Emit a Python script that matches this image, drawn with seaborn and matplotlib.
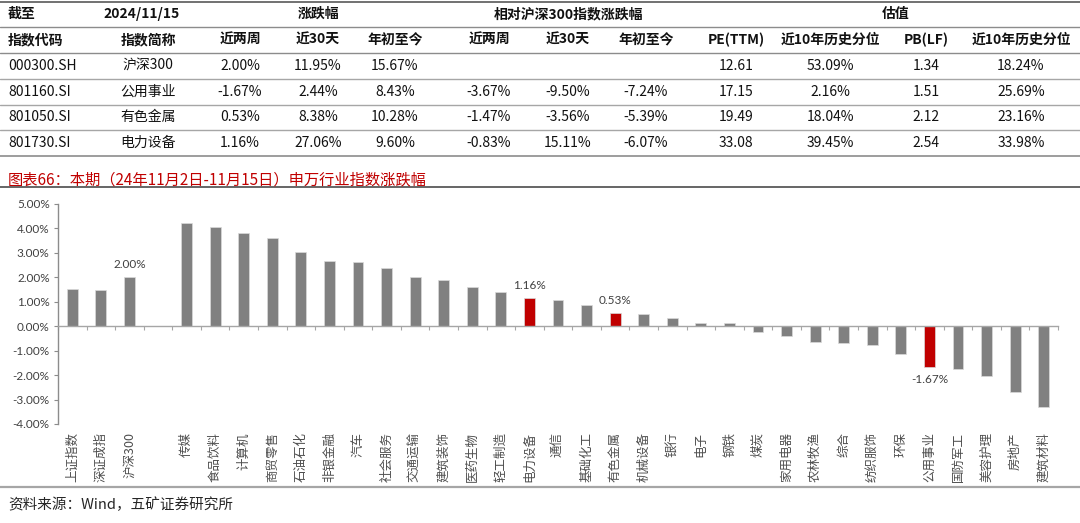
import numpy as np
import pandas as pd
import matplotlib
matplotlib.use("Agg")
import matplotlib.pyplot as plt
from matplotlib.lines import Line2D
from matplotlib.ticker import StrMethodFormatter
import seaborn as sns

# ---------------- data ----------------
header_top = ["截至", "2024/11/15", "涨跌幅", "相对沪深300指数涨跌幅", "估值"]
header_cols = ["指数代码", "指数简称", "近两周", "近30天", "年初至今", "近两周", "近30天",
               "年初至今", "PE(TTM)", "近10年历史分位", "PB(LF)", "近10年历史分位"]
table_rows = [
    ["000300.SH", "沪深300", "2.00%", "11.95%", "15.67%", "", "", "", "12.61", "53.09%", "1.34", "18.24%"],
    ["801160.SI", "公用事业", "-1.67%", "2.44%", "8.43%", "-3.67%", "-9.50%", "-7.24%", "17.15", "2.16%", "1.51", "25.69%"],
    ["801050.SI", "有色金属", "0.53%", "8.38%", "10.28%", "-1.47%", "-3.56%", "-5.39%", "19.49", "18.04%", "2.12", "23.16%"],
    ["801730.SI", "电力设备", "1.16%", "27.06%", "9.60%", "-0.83%", "15.11%", "-6.07%", "33.08", "39.45%", "2.54", "33.98%"],
]

categories = ["上证指数", "深证成指", "沪深300", "", "传媒", "食品饮料", "计算机", "商贸零售",
              "石油石化", "非银金融", "汽车", "社会服务", "交通运输", "建筑装饰", "医药生物",
              "轻工制造", "电力设备", "通信", "基础化工", "有色金属", "机械设备", "银行", "电子",
              "钢铁", "煤炭", "家用电器", "农林牧渔", "综合", "纺织服饰", "环保", "公用事业",
              "国防军工", "美容护理", "房地产", "建筑材料"]
values = [1.54, 1.49, 2.00, np.nan, 4.22, 4.04, 3.81, 3.62,
          3.04, 2.68, 2.63, 2.38, 2.00, 1.89, 1.62,
          1.40, 1.16, 1.08, 0.86, 0.53, 0.51, 0.34, 0.15,
          0.14, -0.24, -0.39, -0.64, -0.68, -0.75, -1.13, -1.67,
          -1.74, -2.05, -2.68, -3.31]
highlight = ["电力设备", "有色金属", "公用事业"]
labeled = ["沪深300", "电力设备", "有色金属", "公用事业"]

title = "图表66：本期（24年11月2日-11月15日）申万行业指数涨跌幅"
source = "资料来源：Wind，五矿证券研究所"

# ---------------- style ----------------
sns.set_theme(style="white")
plt.rcParams["font.family"] = ["Noto Sans CJK SC", "DejaVu Sans"]
plt.rcParams["axes.unicode_minus"] = False

W, H = 1080, 523
fig = plt.figure(figsize=(W / 100, H / 100), dpi=100)

def fx(px):
    return px / W

def fy(py):
    return 1 - py / H

# ---------------- table ----------------
col_x = [8, 148, 240, 318, 395, 489, 568, 646, 736, 830, 926, 1021]
top_x = [8, 142, 319, 568, 896]
row_y = [66, 92, 117, 143]
txt_color = "#111111"

for i, t in enumerate(header_top):
    ha = "left" if i == 0 else "center"
    fig.text(fx(top_x[i]), fy(14), t, ha=ha, va="center", fontsize=10,
             fontweight="bold", color=txt_color)
for j, t in enumerate(header_cols):
    ha = "left" if j == 0 else "center"
    fig.text(fx(col_x[j]), fy(40), t, ha=ha, va="center", fontsize=10,
             fontweight="bold", color=txt_color)
for r, row in enumerate(table_rows):
    for j, t in enumerate(row):
        ha = "left" if j == 0 else "center"
        fig.text(fx(col_x[j]), fy(row_y[r]), t, ha=ha, va="center", fontsize=10,
                 color=txt_color)

for yy, c, lw in [(2, "#595959", 1.2), (27, "#8c8c8c", 1.0), (53, "#8c8c8c", 1.0),
                  (79, "#a6a6a6", 1.0), (105, "#a6a6a6", 1.0), (130, "#a6a6a6", 1.0),
                  (156, "#8c8c8c", 1.2)]:
    fig.add_artist(Line2D([0, 1], [fy(yy), fy(yy)], color=c, lw=lw,
                          transform=fig.transFigure))

# ---------------- chart title ----------------
fig.text(fx(8), fy(180), title, ha="left", va="center", fontsize=11, color="#C00000")
fig.add_artist(Line2D([0, 1], [fy(187.5), fy(187.5)], color="#595959", lw=1.3,
                      transform=fig.transFigure))

# ---------------- bar chart ----------------
ax = fig.add_axes([fx(58), fy(424), fx(1058) - fx(58), fy(204) - fy(424)])
df = pd.DataFrame({"cat": categories, "val": values})
palette = {c: ("#C00000" if c in highlight else "#808080") for c in categories}
sns.barplot(data=df, x="cat", y="val", hue="cat", order=categories, hue_order=categories,
            palette=palette, legend=False, width=0.38, saturation=1, ax=ax,
            edgecolor="#d9d9d9", linewidth=0.5)

n = len(categories)
ax.set_xlim(-0.5, n - 0.5)
ax.set_ylim(-4, 5)
ax.set_yticks(np.arange(-4, 5.01, 1))
ax.yaxis.set_major_formatter(StrMethodFormatter("{x:.2f}%"))
ax.set_xlabel("")
ax.set_ylabel("")

for s in ["top", "right"]:
    ax.spines[s].set_visible(False)
ax.spines["left"].set_color("#8c8c8c")
ax.spines["left"].set_linewidth(1.0)
ax.spines["bottom"].set_position(("data", 0))
ax.spines["bottom"].set_color("#a6a6a6")
ax.spines["bottom"].set_linewidth(1.0)

ax.set_xticks(np.arange(-0.5, n, 1), minor=True)
ax.tick_params(axis="x", which="major", length=0, labelbottom=False)
ax.tick_params(axis="x", which="minor", length=3, width=0.8, color="#a6a6a6",
               direction="out", bottom=True)
ax.tick_params(axis="y", which="major", left=True, length=3, width=0.8, color="#8c8c8c",
               direction="out", labelsize=8.5, labelcolor="#404040", pad=3)
for lab in ax.get_yticklabels():
    lab.set_family(["Lato", "DejaVu Sans"])

sec = ax.secondary_xaxis("bottom")
sec.set_xticks(range(n))
sec.set_xticklabels(categories, rotation=90, va="top", ha="center",
                    fontsize=9, color="#4d4d4d")
sec.tick_params(length=0, pad=6)
sec.spines["bottom"].set_visible(False)

for c in labeled:
    i = categories.index(c)
    v = values[i]
    if v >= 0:
        ax.annotate(f"{v:.2f}%", (i, v), xytext=(0, 5), textcoords="offset points",
                    ha="center", va="bottom", fontsize=8.5, color="#404040",
                    family=["Lato", "DejaVu Sans"])
    else:
        ax.annotate(f"{v:.2f}%", (i, v), xytext=(0, -5), textcoords="offset points",
                    ha="center", va="top", fontsize=8.5, color="#404040",
                    family=["Lato", "DejaVu Sans"])

# ---------------- footer ----------------
fig.add_artist(Line2D([0, 1], [fy(487), fy(487)], color="#a6a6a6", lw=1.6,
                      transform=fig.transFigure))
fig.text(fx(8), fy(505), source, ha="left", va="center", fontsize=10.5, color="#262626")

fig.savefig("out.png", dpi=100)
